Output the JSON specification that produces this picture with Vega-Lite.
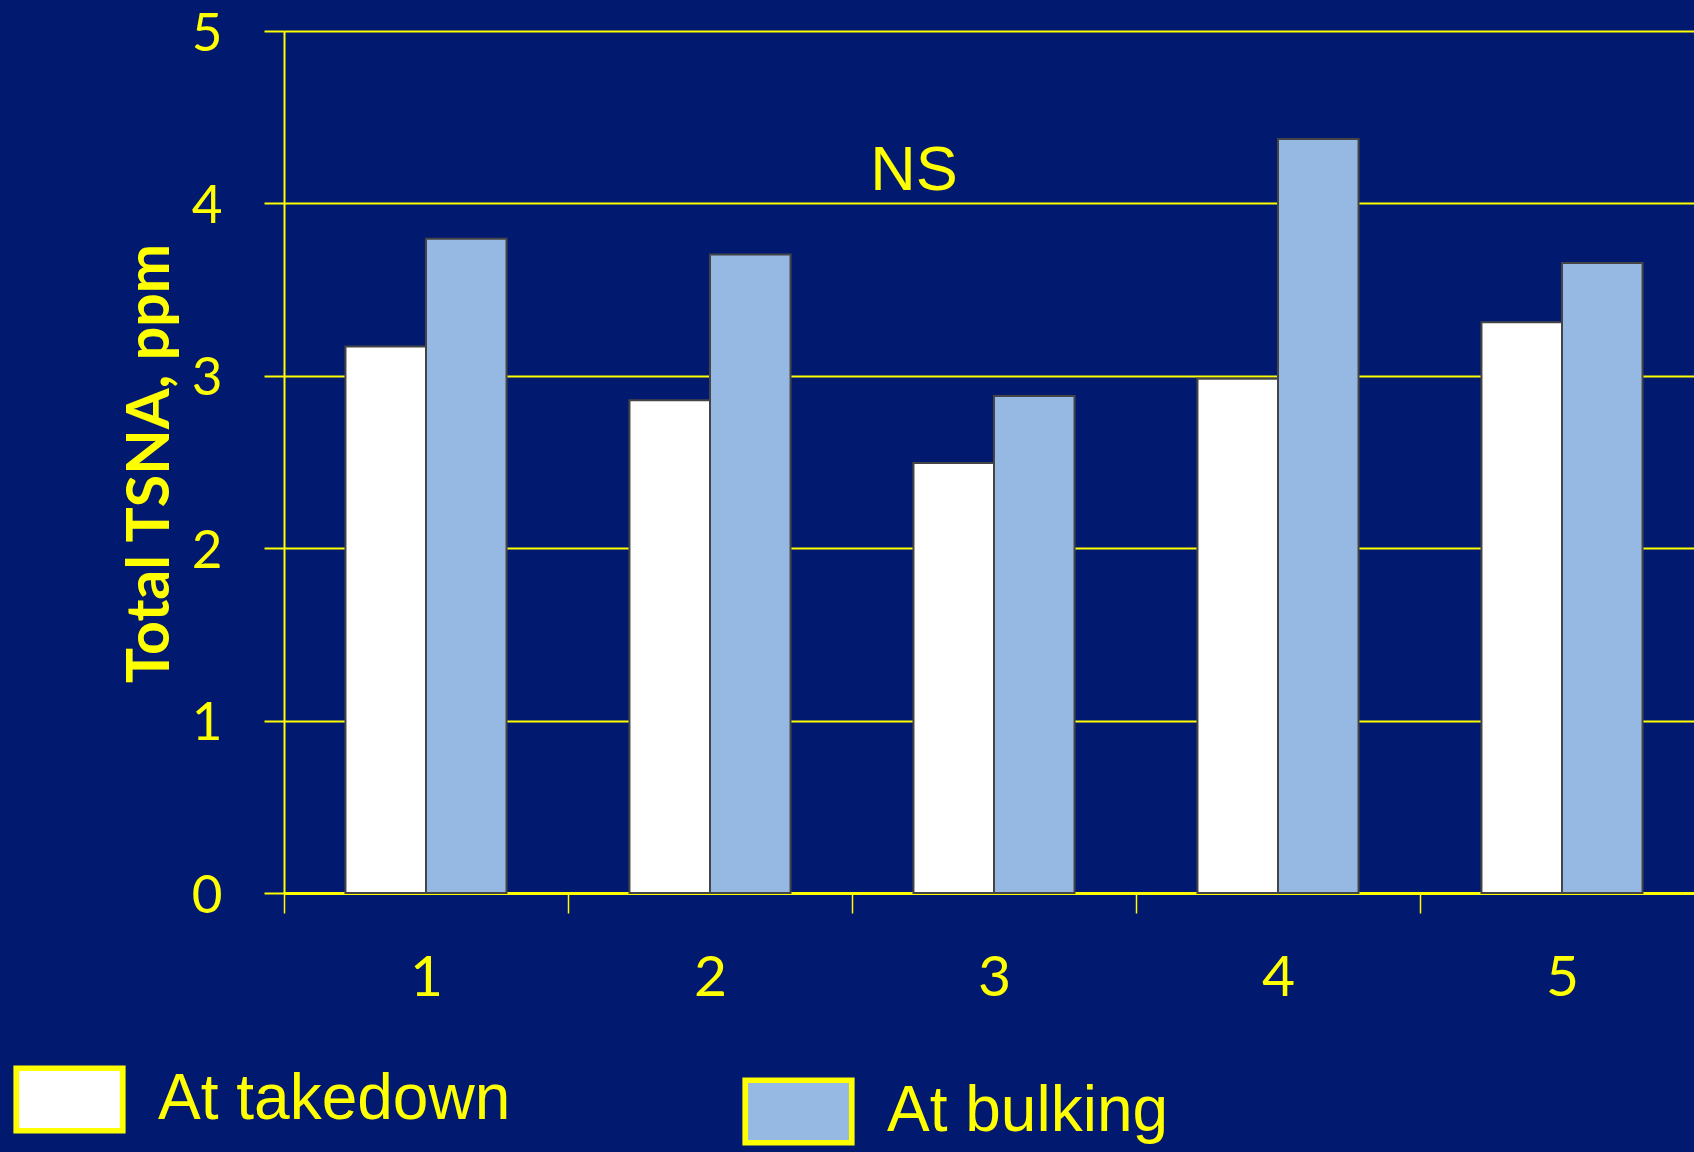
{
  "$schema": "https://vega.github.io/schema/vega-lite/v6.json",
  "autosize": "none",
  "width": 1410,
  "height": 862,
  "padding": {"left": 284, "top": 31, "right": 0, "bottom": 259},
  "background": "#011a6f",
  "config": {
    "view": {"stroke": null},
    "axis": {"labelColor": "#ffff00", "tickColor": "#ffff00", "domainColor": "#ffff00", "gridColor": "#ffff00"}
  },
  "datasets": {
    "bars": [
      {"farm": "1", "series": "At takedown", "tsna": 3.17},
      {"farm": "1", "series": "At bulking", "tsna": 3.795},
      {"farm": "2", "series": "At takedown", "tsna": 2.858},
      {"farm": "2", "series": "At bulking", "tsna": 3.704},
      {"farm": "3", "series": "At takedown", "tsna": 2.494},
      {"farm": "3", "series": "At bulking", "tsna": 2.883},
      {"farm": "4", "series": "At takedown", "tsna": 2.983},
      {"farm": "4", "series": "At bulking", "tsna": 4.374},
      {"farm": "5", "series": "At takedown", "tsna": 3.311},
      {"farm": "5", "series": "At bulking", "tsna": 3.655}
    ],
    "notes": [
      {"farm": "3", "tsna": 4.19, "note": "NS"}
    ]
  },
  "encoding": {
    "x": {
      "field": "farm", "type": "nominal",
      "scale": {"range": [0, 1420], "paddingInner": 0, "paddingOuter": 0},
      "axis": {
        "title": null, "labelAngle": 0, "labelFont": "Lato", "labelFontSize": 57,
        "labelPadding": 37, "tickSize": 20, "tickWidth": 1.5, "tickBand": "extent",
        "domainWidth": 3, "grid": false
      }
    },
    "y": {
      "field": "tsna", "type": "quantitative",
      "scale": {"domain": [0, 5], "nice": false, "zero": true},
      "axis": {
        "values": [0, 1, 2, 3, 4, 5], "title": "Total TSNA, ppm",
        "titleFont": "Lato", "titleFontWeight": "bold", "titleFontSize": 59, "titleColor": "#ffff00",
        "titleX": -116, "titleY": 432, "titleAngle": -90, "titleBaseline": "alphabetic", "titleAlign": "center",
        "labelFont": "Lato", "labelFontSize": 53, "labelPadding": 42, "labelOffset": 3,
        "tickSize": 20, "tickWidth": 2, "domainWidth": 2, "grid": true, "gridWidth": 2, "gridOpacity": 1
      }
    }
  },
  "layer": [
    {
      "data": {"name": "bars"},
      "transform": [{"filter": "datum.series === 'At takedown'"}],
      "mark": {"type": "bar", "stroke": "#454545", "strokeWidth": 2},
      "encoding": {
        "xOffset": {"field": "series", "type": "nominal", "sort": ["At takedown", "At bulking"], "scale": {"domain": ["At takedown", "At bulking"], "paddingInner": 0, "paddingOuter": 0.7635}},
        "color": {
          "field": "series", "type": "nominal",
          "scale": {"domain": ["At takedown"], "range": ["#ffffff"]},
          "legend": {
            "title": null, "orient": "none", "legendX": -271, "legendY": 1012, "padding": 0,
            "symbolType": "M-1,-0.587H1V0.587H-1Z", "symbolSize": 11342, "symbolStrokeColor": "#ffff00", "symbolStrokeWidth": 5.7,
            "symbolOpacity": 1,
            "labelFont": "Liberation Sans", "labelFontSize": 64, "labelColor": "#ffff00", "labelLimit": 800, "labelOffset": 32
          }
        }
      }
    },
    {
      "data": {"name": "bars"},
      "transform": [{"filter": "datum.series === 'At bulking'"}],
      "mark": {"type": "bar", "stroke": "#454545", "strokeWidth": 2},
      "encoding": {
        "xOffset": {"field": "series", "type": "nominal", "sort": ["At takedown", "At bulking"], "scale": {"domain": ["At takedown", "At bulking"], "paddingInner": 0, "paddingOuter": 0.7635}},
        "color": {
          "field": "series", "type": "nominal",
          "scale": {"domain": ["At bulking"], "range": ["#95b9e3"]},
          "legend": {
            "title": null, "orient": "none", "legendX": 458, "legendY": 1024, "padding": 0,
            "symbolType": "M-1,-0.587H1V0.587H-1Z", "symbolSize": 11342, "symbolStrokeColor": "#ffff00", "symbolStrokeWidth": 5.7,
            "symbolOpacity": 1,
            "labelFont": "Liberation Sans", "labelFontSize": 64, "labelColor": "#ffff00", "labelLimit": 800, "labelOffset": 32
          }
        }
      }
    },
    {
      "data": {"name": "notes"},
      "mark": {"type": "text", "font": "Liberation Sans", "fontSize": 63, "color": "#ffff00", "dx": -80, "baseline": "middle", "align": "center"},
      "encoding": {
        "text": {"field": "note"}
      }
    }
  ],
  "resolve": {"scale": {"color": "independent"}}
}
